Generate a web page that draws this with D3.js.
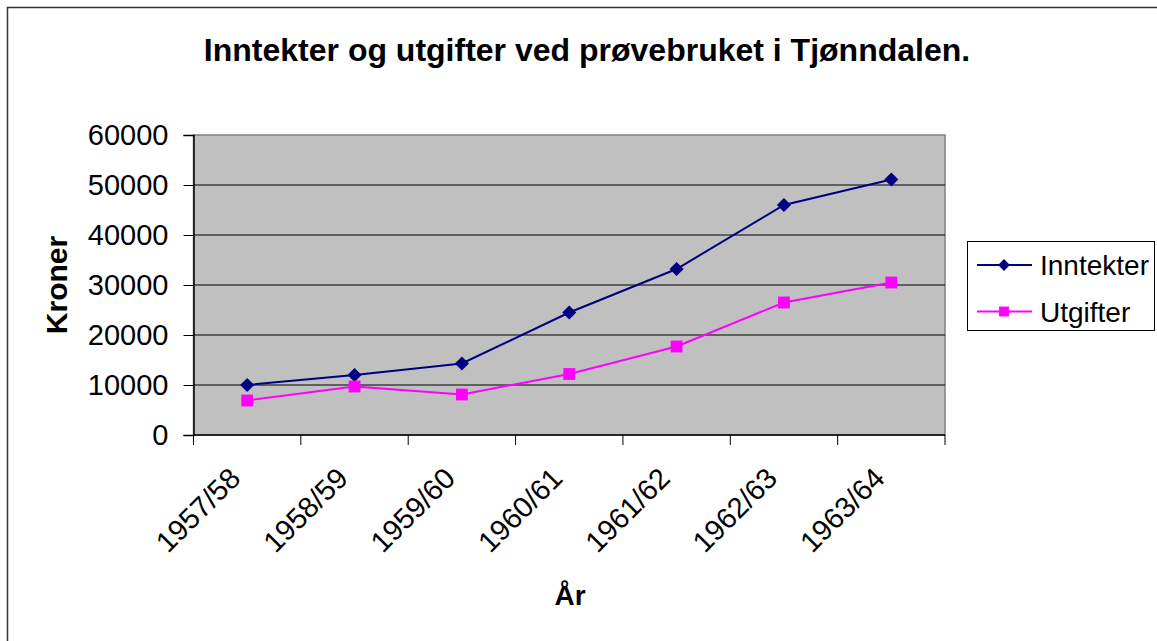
<!DOCTYPE html>
<html>
<head>
<meta charset="utf-8">
<script src="https://cdn.jsdelivr.net/npm/d3@7"></script>
<style>
  body { margin: 0; background: #fff; }
  svg { display: block; font-family: "Liberation Sans", Arial, sans-serif; }
</style>
</head>
<body>
<svg width="1157" height="641"></svg>
<script>
// data
const years = ['1957/58', '1958/59', '1959/60', '1960/61', '1961/62', '1962/63', '1963/64']
const inntekter = [10000, 12000, 14300, 24500, 33200, 46000, 51100]
const utgifter = [6900, 9700, 8100, 12200, 17700, 26500, 30500]
const yTicks = [0, 10000, 20000, 30000, 40000, 50000, 60000]
const seriesNames = ['Inntekter', 'Utgifter']

var svg = d3.select('svg')

var plot = { left: 193.5, top: 135, right: 945, bottom: 435 }

// chart frame
svg.append('rect')
  .attr('x', 7.5).attr('y', 7.5)
  .attr('width', 1160).attr('height', 700)
  .attr('fill', '#fff')
  .attr('stroke', '#333').attr('stroke-width', 1.5)

svg.append('text')
  .attr('x', 587).attr('y', 61)
  .attr('text-anchor', 'middle')
  .attr('font-size', 32).attr('font-weight', 'bold')
  .text('Inntekter og utgifter ved prøvebruket i Tjønndalen.')

var x = d3.scaleBand().domain(years).range([plot.left, plot.right])
var y = d3.scaleLinear().domain([0, 60000]).range([plot.bottom, plot.top])

// plot background
svg.append('rect')
  .attr('x', plot.left).attr('y', plot.top)
  .attr('width', plot.right - plot.left).attr('height', plot.bottom - plot.top)
  .attr('fill', '#c0c0c0')
  .attr('stroke', '#808080').attr('stroke-width', 1.5)

// gridlines
svg.append('g').selectAll('line')
  .data(yTicks.filter(d => d > 0 && d < 60000))
  .enter().append('line')
  .attr('x1', plot.left).attr('x2', plot.right)
  .attr('y1', d => y(d)).attr('y2', d => y(d))
  .attr('stroke', '#000').attr('stroke-width', 1)

// y axis
var yAxis = svg.append('g')
  .attr('transform', `translate(${plot.left},0)`)
  .call(d3.axisLeft(y).tickValues(yTicks).tickSize(10).tickPadding(15).tickFormat(d3.format('d')))
yAxis.select('.domain').attr('stroke', '#000').attr('stroke-width', 1.5)
yAxis.selectAll('.tick line').attr('stroke', '#000')
yAxis.selectAll('text').attr('font-size', 29).attr('fill', '#000')
  .attr('font-family', '"Liberation Sans", Arial, sans-serif')

// x axis with ticks on the band edges
var edges = years.map(d => x(d)).concat([plot.right])
svg.append('line')
  .attr('x1', plot.left).attr('x2', plot.right)
  .attr('y1', plot.bottom).attr('y2', plot.bottom)
  .attr('stroke', '#000').attr('stroke-width', 1.5)
svg.append('g').selectAll('line')
  .data(edges)
  .enter().append('line')
  .attr('x1', d => d).attr('x2', d => d)
  .attr('y1', plot.bottom).attr('y2', plot.bottom + 10)
  .attr('stroke', '#000')

svg.append('g').selectAll('text')
  .data(years)
  .enter().append('text')
  .attr('text-anchor', 'end')
  .attr('font-size', 29)
  .attr('transform', d => `translate(${x(d) + x.bandwidth() / 2 - 5},${plot.bottom + 45}) rotate(-45)`)
  .text(d => d)

// axis titles
svg.append('text')
  .attr('transform', `translate(67,285) rotate(-90)`)
  .attr('text-anchor', 'middle')
  .attr('font-size', 30).attr('font-weight', 'bold')
  .text('Kroner')

svg.append('text')
  .attr('x', 570).attr('y', 605)
  .attr('text-anchor', 'middle')
  .attr('font-size', 28).attr('font-weight', 'bold')
  .text('År')

// series
var cx = d => x(d) + x.bandwidth() / 2
var series = [
  { name: seriesNames[0], values: inntekter, color: '#000080', shape: d3.symbolSquare, size: 100, rot: 45 },
  { name: seriesNames[1], values: utgifter, color: '#ff00ff', shape: d3.symbolSquare, size: 140, rot: 0 }
]

var line = d3.line().x((d, i) => cx(years[i])).y(d => y(d))

series.forEach(s => {
  svg.append('path')
    .datum(s.values)
    .attr('d', line)
    .attr('fill', 'none')
    .attr('stroke', s.color).attr('stroke-width', 2)

  svg.append('g').selectAll('path')
    .data(s.values)
    .enter().append('path')
    .attr('d', d3.symbol().type(s.shape).size(s.size))
    .attr('transform', (d, i) => `translate(${cx(years[i])},${y(d)}) rotate(${s.rot})`)
    .attr('fill', s.color)
})

// legend
var legend = svg.append('g')
legend.append('rect')
  .attr('x', 967.5).attr('y', 241.5)
  .attr('width', 187).attr('height', 89)
  .attr('fill', '#fff').attr('stroke', '#000')

series.forEach((s, i) => {
  var ly = 265 + i * 46.5
  legend.append('line')
    .attr('x1', 977).attr('x2', 1032)
    .attr('y1', ly).attr('y2', ly)
    .attr('stroke', s.color).attr('stroke-width', 2)
  legend.append('path')
    .attr('d', d3.symbol().type(s.shape).size(s.size * 0.7))
    .attr('transform', `translate(1004,${ly}) rotate(${s.rot})`)
    .attr('fill', s.color)
  legend.append('text')
    .attr('x', 1040).attr('y', ly + 10)
    .attr('font-size', 28)
    .text(s.name)
})
</script>
</body>
</html>
